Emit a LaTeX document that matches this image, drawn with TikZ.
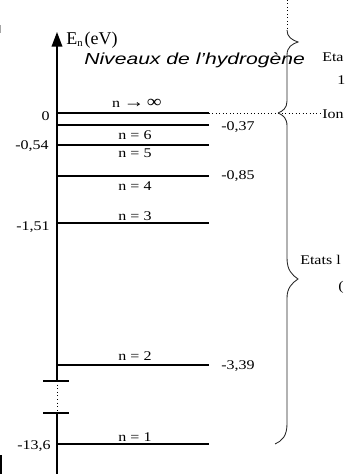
\documentclass[tikz,border=0pt]{standalone}
\usepackage{fontspec}
\setmainfont{Liberation Serif}
\newfontfamily\levelfont[FakeStretch=1.2]{Liberation Serif}
\newfontfamily\titlefont[FakeStretch=1.32]{Liberation Sans}
\usetikzlibrary{arrows.meta, positioning}
\tikzset{
	leveltext/.style={font=\levelfont\fontsize{10}{12}\selectfont, inner sep=0pt}
}
\tikzset{
	levelline/.style={line width=1.1pt}
}
\tikzset{
	bracestroke/.style={line width=0.65pt, black!85}
}

\begin{document}
\begin{tikzpicture}[x=0.75pt, y=-0.75pt]

			\useasboundingbox (0,0) rectangle (347,474);
			\clip (0,0) rectangle (347,474);

			% energy axis, with its break
			\begin{scope}
				\coordinate (axT) at (57,32);
				\coordinate (brA) at (57,381);
				\coordinate (brB) at (57,413);
				\coordinate (axB) at (57,474);

				\draw[levelline, -{Triangle[length=11pt, width=8pt]}] (brA) -- (axT);
				\draw[line width=0.7pt, dotted] (brA) -- (brB);
				\draw[levelline] (brB) -- (axB);
				\draw[line width=0.8pt] ([xshift=-14*0.75pt]brA) -- ([xshift=12*0.75pt]brA);
				\draw[line width=0.8pt] ([xshift=-14*0.75pt]brB) -- ([xshift=12*0.75pt]brB);

				\node[anchor=base west, inner sep=0pt, font=\fontsize{13.5}{15}\selectfont] (eaxis) at (66,45)
					{E{\fontsize{8}{9}\selectfont\raisebox{-0.35ex}{n}}\hspace{1.5pt}(eV)};
				\node[anchor=base west, inner sep=0pt, font=\titlefont\itshape\fontsize{12}{14}\selectfont] (title) at (84,65)
					{Niveaux de l’hydrogène};
			\end{scope}

			% energy levels
			\begin{scope}
				\coordinate (mA) at (57,113);
				\coordinate (mB) at (57,125);
				\coordinate (mC) at (57,145);
				\coordinate (mD) at (57,176);
				\coordinate (mE) at (57,223);
				\coordinate (mF) at (57,365);
				\coordinate (mG) at (57,444);

				\draw[levelline] (mA) -- ++(152,0) coordinate (nA);
				\draw[levelline] (mB) -- ++(152,0) coordinate (nB);
				\draw[levelline] (mC) -- ++(152,0) coordinate (nC);
				\draw[levelline] (mD) -- ++(152,0) coordinate (nD);
				\draw[levelline] (mE) -- ++(152,0) coordinate (nE);
				\draw[levelline] (mF) -- ++(152,0) coordinate (nF);
				\draw[levelline] (mG) -- ++(152,0) coordinate (nG);

				\node[leveltext, anchor=base] (l1) at (137,108)
					{n\hspace{2.5pt}{\fontsize{13}{13}\selectfont →\hspace{2pt}∞}};
				\node[leveltext, anchor=base] (l2) at (135,139) {n = 6};
				\node[leveltext, anchor=base] (l3) at (135,157) {n = 5};
				\node[leveltext, anchor=base] (l4) at (135,190) {n = 4};
				\node[leveltext, anchor=base] (l5) at (135,220) {n = 3};
				\node[leveltext, anchor=base] (l6) at (135,360) {n = 2};
				\node[leveltext, anchor=base] (l7) at (135,441) {n = 1};

				\node[leveltext, anchor=base east] (e1) at (50,121) {0};
				\node[leveltext, anchor=base east] (e2) at (49,150) {-0,54};
				\node[leveltext, anchor=base east] (e3) at (50,230) {-1,51};
				\node[leveltext, anchor=base east] (e4) at (51,449) {-13,6};

				\node[leveltext, anchor=base west] (e5) at (221,131) {-0,37};
				\node[leveltext, anchor=base west] (e6) at (221,179) {-0,85};
				\node[leveltext, anchor=base west] (e7) at (221,369) {-3,39};
			\end{scope}

			% braces on the right
			\begin{scope}
				\coordinate (bT) at (287,0);
				\coordinate (bA) at (287,30);
				\coordinate (bK) at (278,113);
				\coordinate (bZ) at (275,444);
				\coordinate (ionE) at (322,113);

				\draw[line width=0.6pt, dotted] (bT) -- (bA);
				\draw[line width=0.6pt, dotted] (nA) -- (ionE);

				\draw[bracestroke] (bA) .. controls (287,37) and (292,40) .. (298,42)
					.. controls (292,44) and (287,47) .. (287,55)
					-- (287,101) .. controls (287,108) and (283,111) .. (bK);
				\draw[bracestroke] (bK) .. controls (283,115) and (287,118) .. (287,126)
					-- (287,258) .. controls (287,270) and (292,275) .. (298,279)
					.. controls (292,283) and (287,288) .. (287,298)
					-- (287,424) .. controls (287,436) and (282,441) .. (bZ);

				\node[leveltext, anchor=base west] (s1) at (322,62) {Eta};
				\node[leveltext, anchor=base west] (s2) at (337,85) {1};
				\node[leveltext, anchor=base west] (s3) at (322,118) {Ion};
				\node[leveltext, anchor=base west] (s4) at (300,264) {Etats l};
				\node[leveltext, anchor=base west] (s5) at (338,290) {(};
			\end{scope}

			% bits cut off at the left edge
			\draw[black!35, line width=1pt] (0.5,25) -- (0.5,33);
			\draw[line width=1.4pt] (0.7,455) -- (0.7,474);

		\end{tikzpicture}
\end{document}
